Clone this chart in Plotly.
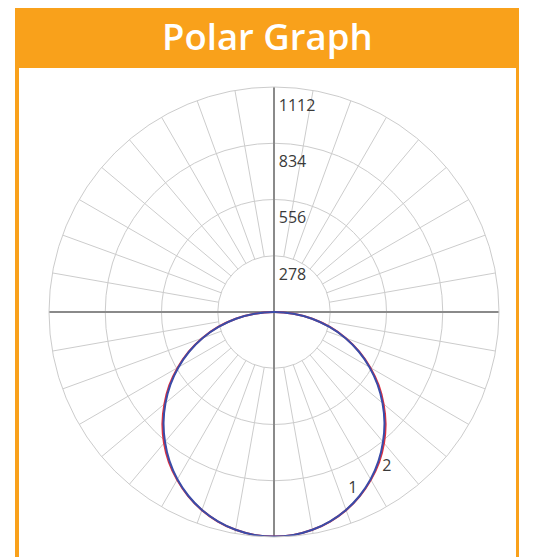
import plotly.graph_objects as go

# ---- data ----
title_text = "Polar Graph"
ring_values = [278, 556, 834, 1112]
ring_labels = ["278", "556", "834", "1112"]
r_max = 1112

# gamma angles (degrees from nadir), positive to the right
gamma = [-90, -85, -80, -75, -70, -65, -60, -55, -50, -45, -40, -35, -30, -25, -20, -15, -10, -5,
         0, 5, 10, 15, 20, 25, 30, 35, 40, 45, 50, 55, 60, 65, 70, 75, 80, 85, 90]
# curve 1 (red)
curve1 = [0, 97, 192, 286, 378, 466, 550, 632, 707, 780, 846, 906, 958, 1004, 1042, 1072, 1093, 1106,
          1110, 1106, 1093, 1072, 1042, 1004, 958, 906, 846, 780, 707, 632, 550, 466, 378, 286, 192, 97, 0]
# curve 2 (blue)
curve2 = [0, 96, 191, 284, 375, 462, 545, 625, 700, 772, 838, 900, 955, 1002, 1041, 1071, 1093, 1106,
          1110, 1106, 1093, 1071, 1041, 1002, 955, 900, 838, 772, 700, 625, 545, 462, 375, 284, 191, 96, 0]
curve_names = ["1", "2"]
curve_label_r = [958, 948]
curve_label_theta = [24, 36]

spoke_angles = [a for a in range(0, 360, 10) if a % 90 != 0]

# ---- figure ----
W, H = 537, 557
OFF = 8  # page body margin
orange = "#F9A11B"
grid_color = "#cccccc"
axis_color = "#8a8a8a"
label_drop = 0.088 * r_max  # ring labels sit just below their ring


def px(v):
    return v - OFF


fig = go.Figure()

# spokes
sr, st = [], []
for a in spoke_angles:
    sr += [ring_values[0], r_max, None]
    st += [a, a, None]
fig.add_trace(go.Scatterpolar(r=sr, theta=st, mode="lines",
                              line=dict(color=grid_color, width=1), hoverinfo="skip", showlegend=False))
# main axes through center
fig.add_trace(go.Scatterpolar(r=[r_max, 0, r_max], theta=[90, 90, 270], mode="lines",
                              line=dict(color=axis_color, width=2), hoverinfo="skip", showlegend=False))
fig.add_trace(go.Scatterpolar(r=[r_max, 0, r_max], theta=[0, 0, 180], mode="lines",
                              line=dict(color=axis_color, width=2), hoverinfo="skip", showlegend=False))

# curves
fig.add_trace(go.Scatterpolar(r=curve1, theta=gamma, mode="lines", name=curve_names[0],
                              line=dict(color="#E0303F", width=2, shape="spline"), showlegend=False))
fig.add_trace(go.Scatterpolar(r=curve2, theta=gamma, mode="lines", name=curve_names[1],
                              line=dict(color="#3A4CA8", width=2, shape="spline"), showlegend=False))

# ring labels
fig.add_trace(go.Scatterpolar(r=[v - label_drop for v in ring_values], theta=[180] * len(ring_values),
                              mode="markers+text", text=ring_labels, textposition="middle right",
                              marker=dict(size=6, opacity=0),
                              textfont=dict(family="Open Sans", size=16, color="#3a3a3a"),
                              hoverinfo="skip", showlegend=False))
# curve labels
fig.add_trace(go.Scatterpolar(r=curve_label_r, theta=curve_label_theta, mode="text",
                              text=curve_names, textposition="middle center",
                              textfont=dict(family="Open Sans", size=16, color="#3a3a3a"),
                              hoverinfo="skip", showlegend=False))

cx0, cx1 = px(49), px(499)
cy0, cy1 = px(87), px(537)
fig.update_layout(
    width=W, height=H,
    margin=dict(l=0, r=0, t=0, b=0),
    paper_bgcolor="white",
    polar=dict(
        domain=dict(x=[cx0 / W, cx1 / W], y=[1 - cy1 / H, 1 - cy0 / H]),
        bgcolor="rgba(0,0,0,0)",
        radialaxis=dict(range=[0, r_max], tickvals=ring_values, showticklabels=False,
                        ticks="", showline=False, gridcolor=grid_color, gridwidth=1),
        angularaxis=dict(rotation=270, direction="counterclockwise", showgrid=False,
                         showticklabels=False, ticks="", showline=True,
                         linecolor=grid_color, linewidth=1),
    ),
    shapes=[
        dict(type="rect", xref="paper", yref="paper", x0=px(15) / W, x1=px(519) / W, y0=0, y1=1,
             fillcolor=orange, line=dict(width=0), layer="below"),
        dict(type="rect", xref="paper", yref="paper", x0=px(19) / W, x1=px(516) / W, y0=0,
             y1=1 - px(68) / H, fillcolor="white", line=dict(width=0), layer="below"),
    ],
    annotations=[
        dict(text=title_text, xref="paper", yref="paper", x=px(267) / W, y=1 - px(36) / H,
             xanchor="center", yanchor="middle", showarrow=False,
             font=dict(family="Open Sans", size=36.5, color="white", weight=600)),
    ],
)

fig.write_html("out.html")
